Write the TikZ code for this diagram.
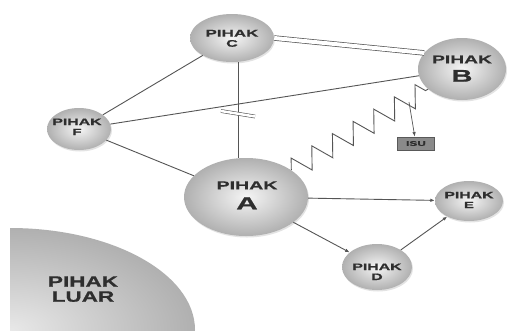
\documentclass[tikz,border=0pt]{standalone}
\usepackage{fontspec}
\newfontfamily\lblfont[FakeStretch=1.7,FakeBold=0.8]{Liberation Sans}
\newfontfamily\outerfont[FakeStretch=1.5,FakeBold=0.8]{Liberation Sans}
\usetikzlibrary{shapes.geometric,shadows,decorations.pathmorphing,arrows.meta}
\definecolor{ink}{HTML}{2E2E2E}
\definecolor{wirecol}{HTML}{555555}
\definecolor{tagfill}{HTML}{8A8A8A}
\newcommand{\fsz}[1]{\fontsize{#1}{#1}\selectfont}
\begin{document}
\begin{tikzpicture}[x=1pt,y=-1pt,
  party/.style={ellipse, inner sep=0pt, inner color=gray!8, outer color=gray!62,
    drop shadow={opacity=0.22, shadow xshift=1pt, shadow yshift=-1.5pt}},
  lbl/.style={anchor=base, inner sep=0pt, text=ink, font=\lblfont\bfseries},
  wire/.style={draw=wirecol, line width=0.9pt},
  arrow/.style={wire, -{Latex[length=4.5pt,width=3.5pt]}},
]
\useasboundingbox[fill=white] (0,0) rectangle (512,330);

% outside party: a shaded quarter ellipse in the lower left corner
\begin{scope}
  \clip (10,200) rectangle (512,330);
  \shade[inner color=gray!18, outer color=gray!62] (10,330) ellipse [x radius=185, y radius=102];
\end{scope}
\node[anchor=base, inner sep=0pt, text=ink, font={\outerfont\bfseries\fsz{15}}] (luar1) at (83,286.7) {PIHAK};
\node[anchor=base, inner sep=0pt, text=ink, font={\outerfont\bfseries\fsz{15}}] (luar2) at (83,301.7) {LUAR};

% parties
\node[party, minimum width=84pt, minimum height=48pt] (C) at (232,38) {};
\node[party, minimum width=88pt, minimum height=62pt] (B) at (462,69) {};
\node[party, minimum width=64pt, minimum height=42pt] (F) at (79,129) {};
\node[party, minimum width=124pt, minimum height=78pt] (A) at (246,197) {};
\node[party, minimum width=68pt, minimum height=40pt] (E) at (469,201) {};
\node[party, minimum width=70pt, minimum height=46pt] (D) at (377,267) {};

% labels
\node[lbl, font={\lblfont\bfseries\fsz{10}}] (Ct) at (232,36.7) {PIHAK};
\node[lbl, font={\lblfont\bfseries\fsz{9.5}}] (Cl) at (232,46.7) {C};
\node[lbl, font={\lblfont\bfseries\fsz{11.3}}] (Bt) at (462,63.3) {PIHAK};
\node[lbl, font={\lblfont\bfseries\fsz{17}}] (Bl) at (462,81.7) {B};
\node[lbl, font={\lblfont\bfseries\fsz{9.3}}] (Ft) at (77,125) {PIHAK};
\node[lbl, font={\lblfont\bfseries\fsz{9}}] (Fl) at (77,135) {F};
\node[lbl, font={\lblfont\bfseries\fsz{11.5}}] (At) at (247,189.3) {PIHAK};
\node[lbl, font={\lblfont\bfseries\fsz{17.5}}] (Al) at (247,209.3) {A};
\node[lbl, font={\lblfont\bfseries\fsz{9.3}}] (Et) at (469,198.3) {PIHAK};
\node[lbl, font={\lblfont\bfseries\fsz{8.8}}] (El) at (469,208) {E};
\node[lbl, font={\lblfont\bfseries\fsz{9.3}}] (Dt) at (377,270) {PIHAK};
\node[lbl, font={\lblfont\bfseries\fsz{9.3}}] (Dl) at (377,280) {D};

% issue tag
\node[draw=black!65, line width=0.8pt, fill=tagfill, text=ink, inner sep=0pt, minimum width=37pt, minimum height=13pt,
  font={\lblfont\bfseries\fsz{7}}] (ISU) at (416,143.5) {ISU};

% relations
\draw[wire] (C) -- (F);
\draw[wire] (F) -- (B);
\draw[wire] (F) -- (A);
\draw[wire, double=white, double distance=4pt, line width=0.7pt] (C.east) -- (B.157);
\draw[wire] (C.284) -- (C.284 |- A.north);
\draw[draw=wirecol, line width=0.6pt, double=white, double distance=2.5pt] (221,111) -- (255,116.5);
\draw[wire, decorate, decoration={zigzag, amplitude=10.5pt, segment length=24pt}] (A) -- (B);
\coordinate (tap) at (409,102);
\draw[arrow, line width=0.7pt] (tap) -- (ISU.100);
\draw[arrow] (A) -- (E);
\draw[arrow] (A) -- (D);
\draw[arrow] (D) -- (E);
\end{tikzpicture}
\end{document}
